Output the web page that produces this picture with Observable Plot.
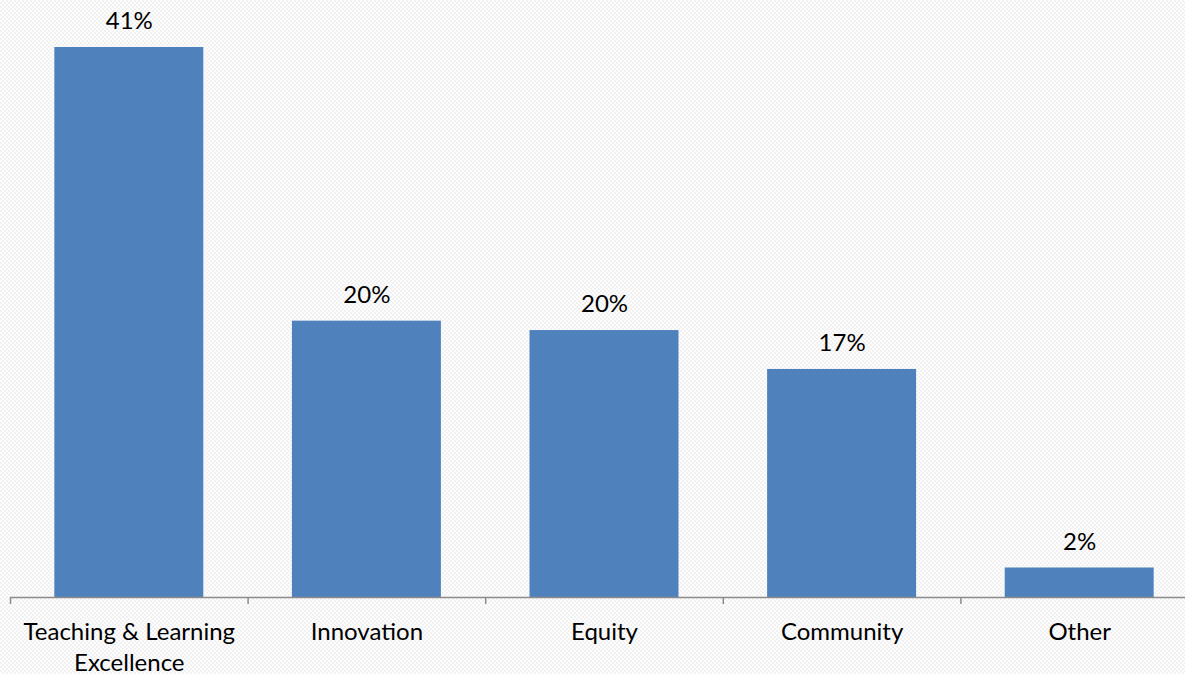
<!DOCTYPE html>
<html>
<head>
<meta charset="utf-8">
<script src="https://cdn.jsdelivr.net/npm/d3@7"></script>
<script src="https://cdn.jsdelivr.net/npm/@observablehq/plot@0.6"></script>
<style>
  html, body { margin: 0; padding: 0; overflow: hidden; }
  body {
    background-color: #fbfbfb;
    background-image: repeating-conic-gradient(#f1f1f1 0 25%, #fdfdfd 0 50%);
    background-size: 4px 4px;
  }
  svg { display: block; overflow: visible; }
</style>
</head>
<body>
<div id="chart"></div>
<script>
const categories = ["Teaching & Learning\nExcellence", "Innovation", "Equity", "Community", "Other"];
const values = [0.41, 0.206, 0.199, 0.170, 0.022];
const valueLabels = ["41%", "20%", "20%", "17%", "2%"];

const data = categories.map((c, i) => ({category: c, value: values[i], label: valueLabels[i]}));

const W = 1185, H = 674;
const mLeft = 10, mRight = -13;
const step = (W - mRight - mLeft) / categories.length;

const chart = Plot.plot({
  width: W,
  height: H,
  marginLeft: mLeft,
  marginRight: mRight,
  marginTop: 47,
  marginBottom: 77,
  style: {background: "transparent", fontFamily: "Lato, 'Open Sans', sans-serif", fontSize: "24px", color: "#000"},
  x: {domain: categories, paddingInner: 0.373, paddingOuter: 0.1865, align: 0.5, round: false},
  y: {domain: [0, 0.41], axis: null},
  marks: [
    Plot.barY(data, {x: "category", y: "value", fill: "#4f81bd"}),
    Plot.ruleY([0], {stroke: "#8c8c8c", strokeWidth: 1.5}),
    Plot.axisX({tickSize: 7, tickFormat: () => "", dx: -step / 2, stroke: "#8c8c8c", strokeWidth: 1.5, label: null}),
    Plot.axisX({tickSize: 0, tickPadding: 0, lineHeight: 1.3, fontSize: 24, fill: "#000", label: null, dy: 20}),
    Plot.text(data, {x: "category", y: "value", text: "label", dy: -26, fontSize: 24, fill: "#000"})
  ]
});

document.getElementById("chart").appendChild(chart);
</script>
</body>
</html>
